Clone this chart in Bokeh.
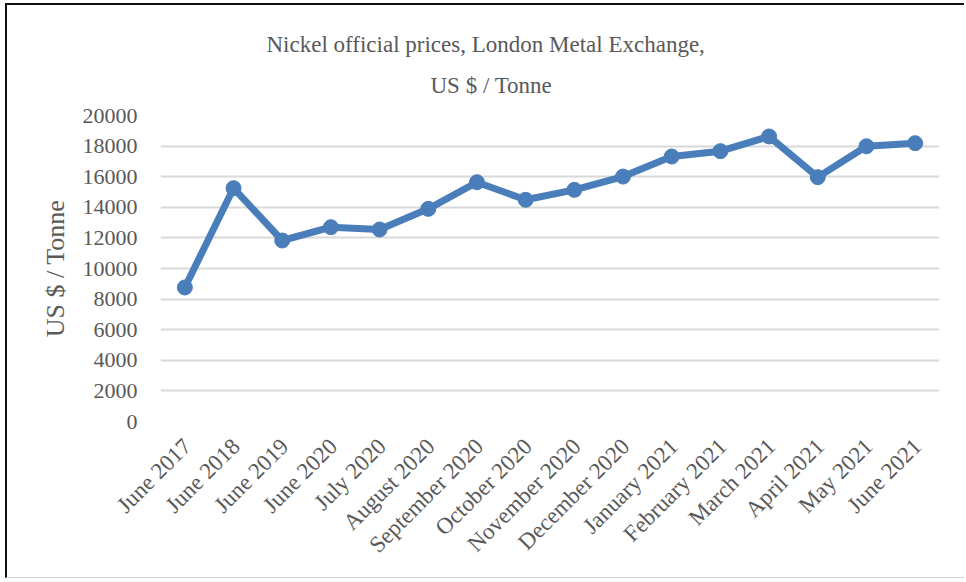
from bokeh.plotting import figure
from bokeh.models import Range1d, FixedTicker, Title
from bokeh.embed import file_html
from bokeh.resources import INLINE
from math import pi

months = ["June 2017", "June 2018", "June 2019", "June 2020", "July 2020",
          "August 2020", "September 2020", "October 2020", "November 2020",
          "December 2020", "January 2021", "February 2021", "March 2021",
          "April 2021", "May 2021", "June 2021"]
prices = [8760, 15250, 11830, 12700, 12550, 13900, 15640, 14490, 15140,
          16010, 17320, 17670, 18630, 15970, 17990, 18190]
y_ticks = list(range(0, 20001, 2000))
title_lines = ["Nickel  official prices, London Metal Exchange,", "US $ / Tonne"]
y_label = "US $ / Tonne"

FONT = "Liberation Serif"
GRAY = "#595959"
BLUE = "#4a7ebb"

n = len(months)
xs = [i + 0.5 for i in range(n)]          # category centres
label_shift = 0.05                         # Excel-like anchoring of rotated labels

W, H = 959, 575
BL, BR, BT, BB = 153, 27, 110, 159

p = figure(x_range=Range1d(0, n), y_range=Range1d(0, 20000), width=W, height=H,
           output_backend="svg", toolbar_location=None,
           min_border_left=BL, min_border_right=BR, min_border_top=BT,
           min_border_bottom=BB)
p.styles = {"margin-left": "5px", "margin-top": "3px",
            "border-left": "2px solid #111111", "border-top": "2px solid #111111",
            "border-bottom": "1px solid #d0d0d0"}
p.outline_line_color = None
p.background_fill_color = "white"
p.border_fill_color = "white"

p.xgrid.grid_line_color = None
p.ygrid.grid_line_color = "#d9d9d9"
p.ygrid.grid_line_width = 2

p.yaxis.ticker = FixedTicker(ticks=y_ticks)
p.yaxis.axis_line_color = None
p.yaxis.major_tick_line_color = None
p.yaxis.minor_tick_line_color = None
p.yaxis.major_label_text_font = FONT
p.yaxis.major_label_text_color = GRAY
p.yaxis.major_label_text_font_size = "22px"
p.yaxis.major_label_standoff = 17
p.yaxis.axis_label = y_label
p.yaxis.axis_label_text_font = FONT
p.yaxis.axis_label_text_font_style = "normal"
p.yaxis.axis_label_text_color = GRAY
p.yaxis.axis_label_text_font_size = "26px"
p.yaxis.axis_label_standoff = 10

lab_ticks = [x + label_shift for x in xs]
p.xaxis.ticker = FixedTicker(ticks=lab_ticks)
p.xaxis.major_label_overrides = {t: m for t, m in zip(lab_ticks, months)}
p.xaxis.axis_line_color = None
p.xaxis.major_tick_line_color = None
p.xaxis.minor_tick_line_color = None
p.xaxis.major_label_text_font = FONT
p.xaxis.major_label_text_color = GRAY
p.xaxis.major_label_text_font_size = "23px"
p.xaxis.major_label_orientation = pi / 4
p.xaxis.major_label_standoff = 15

p.line(xs, prices, line_color=BLUE, line_width=7, line_join="round")
p.scatter(xs, prices, size=15, fill_color=BLUE, line_color=BLUE)

# two-line title: second line added first (closest to the frame)
p.add_layout(Title(text=title_lines[1], align="left", offset=270, standoff=32,
                   vertical_align="top",
                   text_font=FONT, text_font_size="23px", text_font_style="normal",
                   text_color=GRAY), "above")
p.add_layout(Title(text=title_lines[0], align="left", offset=106, standoff=0,
                   text_font=FONT, text_font_size="23px", text_font_style="normal",
                   text_color=GRAY), "above")

open("out.html", "w").write(file_html(p, INLINE))
